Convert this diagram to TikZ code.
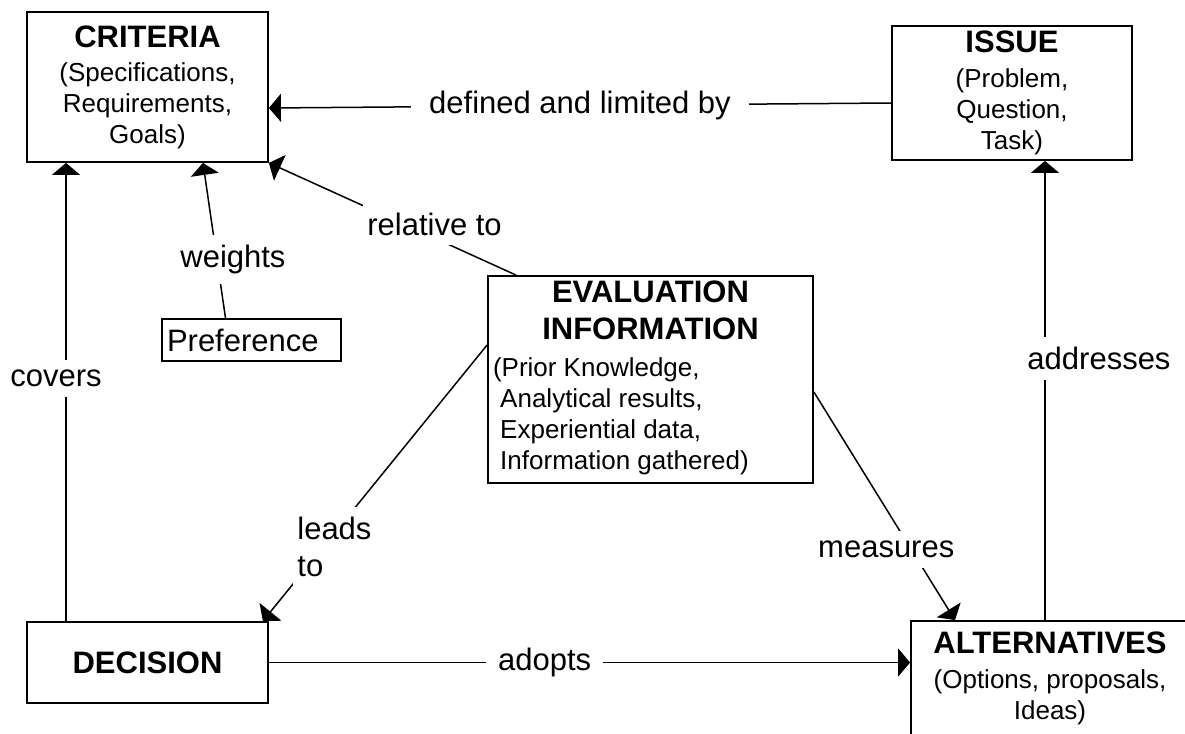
\documentclass[tikz,border=0pt]{standalone}
\usepackage{fontspec}
\setmainfont{Liberation Sans}
\usetikzlibrary{arrows.meta}

\tikzset{
  box/.style={draw, line width=0.9pt, inner sep=0pt, align=center,
    font=\fontsize{13}{15.5}\selectfont},
  lbl/.style={fill=white, inner xsep=2pt, inner ysep=5pt,
    font=\fontsize{15.5}{18.5}\selectfont},
  link/.style={line width=0.75pt, -{Triangle[length=6pt,width=14pt]}}
}
\newcommand{\boxtitle}[1]{{\bfseries\fontsize{15.5}{18.5}\selectfont #1}}

\begin{document}
\begin{tikzpicture}[x=0.5pt, y=-0.5pt]
    \useasboundingbox (0,0) rectangle (1185,734);
    \clip (0,0) rectangle (1185,734);

    \node[box, minimum width=120.5pt, minimum height=75pt] (criteria) at (147.5,87)
      {\boxtitle{CRITERIA}\\[1.5pt] (Specifications,\\ Requirements,\\ Goals)};
    \node[box, minimum width=120pt, minimum height=67pt] (issue) at (1012,93)
      {\boxtitle{ISSUE}\\[2pt] (Problem,\\ Question,\\ Task)};
    \node[box, minimum width=162.5pt, minimum height=103.5pt] (eval) at (650.5,379.5)
      {\boxtitle{EVALUATION}\\[3pt] \boxtitle{INFORMATION}\\[3pt]
       \makebox[157.5pt][l]{\begin{tabular}[t]{@{}l@{}}
         (Prior Knowledge,\\
         \ Analytical results,\\
         \ Experiential data,\\
         \ Information gathered)
       \end{tabular}}};
    \node[box, minimum width=120.5pt, minimum height=40.5pt] (decision) at (147.5,662.5)
      {\boxtitle{DECISION}};
    \node[box, minimum width=139pt, minimum height=57pt] (alt) at (1050,678)
      {\boxtitle{ALTERNATIVES}\\[2pt] (Options, proposals,\\ Ideas)};
    \node[box, inner xsep=2.5pt, text width=84.5pt, minimum height=21pt, align=left,
      font=\fontsize{15.5}{18.5}\selectfont] (pref) at (251.5,340) {Preference};

    \draw[link] ([yshift=-5pt]issue.west) -- node[lbl, pos=0.5, inner xsep=9pt]
      {defined and limited by} ([yshift=-10.5pt]criteria.east);
    \draw[link] ([xshift=14.5pt]eval.north west) -- node[lbl, pos=0.33, yshift=7pt]
      {relative to} (criteria.south east);
    \draw[link] ([xshift=-13pt]pref.north) -- node[lbl, pos=0.38, xshift=8pt]
      {weights} ([xshift=27.75pt]criteria.south);
    \draw[link] ([xshift=-40.75pt]decision.north) -- node[lbl, pos=0.53, xshift=-5pt]
      {covers} ([xshift=-40.75pt]criteria.south);
    \draw[link] ([xshift=-2.5pt]alt.north) -- node[lbl, pos=0.57, xshift=27pt]
      {addresses} ([xshift=16.5pt]issue.south);
    \draw[link] ([yshift=17.25pt]eval.west) -- node[lbl, pos=0.73, xshift=5.5pt, align=left]
      {leads\\to} ([xshift=-3pt]decision.north east);
    \draw[link] ([yshift=-6.25pt]eval.east) -- node[lbl, pos=0.69, xshift=-12.5pt]
      {measures} ([xshift=-47.5pt]alt.north);
    \draw[link] (decision.east) -- node[lbl, pos=0.43, inner xsep=6pt]
      {adopts} (decision.east -| alt.west);
\end{tikzpicture}
\end{document}
